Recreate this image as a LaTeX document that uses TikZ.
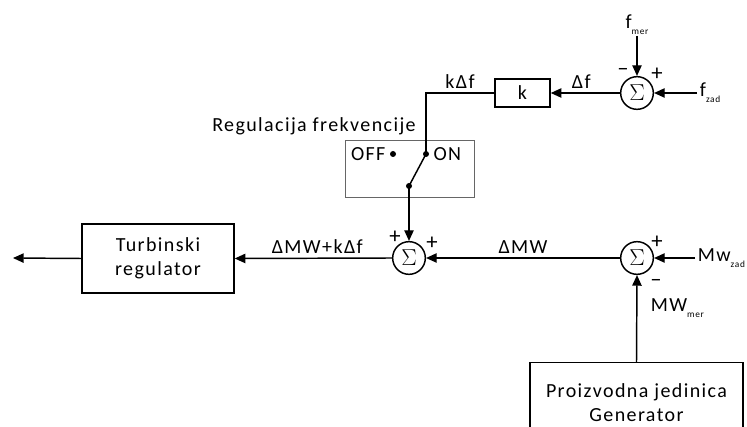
\documentclass[tikz,border=0pt]{standalone}
\usepackage{fontspec}
\setmainfont{Carlito}[LetterSpace=7]
\usetikzlibrary{arrows.meta}
\newcommand{\ind}[1]{\raisebox{-0.6ex}{\fontsize{7}{7}\selectfont #1}}
\tikzset{
  blok/.style={draw, line width=1.1pt, align=center, inner sep=0pt},
  suma/.style={draw, circle, line width=1.1pt, minimum size=24.5pt, inner sep=0pt, font=\fontsize{18}{18}\selectfont},
  sig/.style={line width=1.1pt, -{Triangle[length=8pt,width=7pt]}},
  veza/.style={line width=1.1pt},
  tacka/.style={circle, fill, minimum size=4.5pt, inner sep=0pt},
  znak/.style={font=\fontsize{17}{17}\selectfont, inner sep=0pt},
}
\begin{document}
\begin{tikzpicture}[x=0.75pt, y=-0.75pt, font=\fontsize{15}{18}\selectfont]
  \useasboundingbox (0,0) rectangle (747,427);
  % blokovi
  \node[blok, minimum width=114pt, minimum height=51.75pt] (turb) at (158,258.5) {Turbinski\\regulator};
  \node[blok, minimum width=41.25pt, minimum height=21pt] (k) at (522.5,93) {k};
  \node[blok, minimum width=159.75pt, minimum height=60pt, anchor=north] (gen) at (636.5,362) {Proizvodna jedinica\\Generator};
  \node[draw=black!60, line width=0.6pt, minimum width=96.75pt, minimum height=42.75pt] (prek) at (409.5,168.5) {};
  % sumatori
  \node[suma] (s1) at (637,93) {$\Sigma$};
  \node[suma] (s2) at (409,258) {$\Sigma$};
  \node[suma] (s3) at (637,258) {$\Sigma$};
  % prekidac
  \node[tacka] (off) at (393,154) {};
  \node[tacka] (on) at (426,154) {};
  \node[tacka] (piv) at (409,186) {};
  \node[anchor=east, inner sep=3pt] at (off.west) {OFF};
  \node[anchor=west, inner sep=3pt] at (on.east) {ON};
  \node[anchor=base west, inner sep=0pt] (reg) at (212,132) {Regulacija frekvencije};
  % ulazi i izlaz
  \coordinate (fzad) at (697,93);
  \coordinate (fmer) at (637,36);
  \coordinate (mwzad) at (695,258);
  \coordinate (izlaz) at (13,258);
  \coordinate (ugao) at (426,93);
  \node[anchor=west, inner sep=2pt] at (fzad) {f\ind{zad}};
  \node[anchor=south, inner sep=1pt] at (fmer) {f\ind{mer}};
  \node[anchor=west, inner sep=2pt] at (mwzad) {Mw\ind{zad}};
  % veze
  \draw[sig] (fzad) -- (s1.east);
  \draw[sig] (fmer) -- (s1.north);
  \draw[sig] (s1.west) -- node[above, inner sep=3pt, xshift=-3pt] {Δf} (k.east);
  \draw[veza] (k.west) -- node[above, inner sep=3pt] {kΔf} (ugao) -- (on.center);
  \draw[veza] (piv.center) -- (on.center);
  \draw[sig] (piv.center) -- (s2.north);
  \draw[sig] (mwzad) -- (s3.east);
  \draw[sig] (gen.north) -- node[right, pos=0.62, inner sep=10pt] {MW\ind{mer}} (s3.south);
  \draw[sig] (s3.west) -- node[above, inner sep=3pt] {ΔMW} (s2.east);
  \draw[sig] (s2.west) -- node[above, inner sep=3pt, xshift=3pt] {ΔMW+kΔf} (turb.east);
  \draw[sig] (turb.west) -- (izlaz);
  % predznaci
  \node[znak] at (623,72) {–};
  \node[znak] at (657,74) {+};
  \node[znak] at (395,237) {+};
  \node[znak] at (432,243) {+};
  \node[znak] at (657,242) {+};
  \node[znak] at (656,283) {–};
\end{tikzpicture}
\end{document}
